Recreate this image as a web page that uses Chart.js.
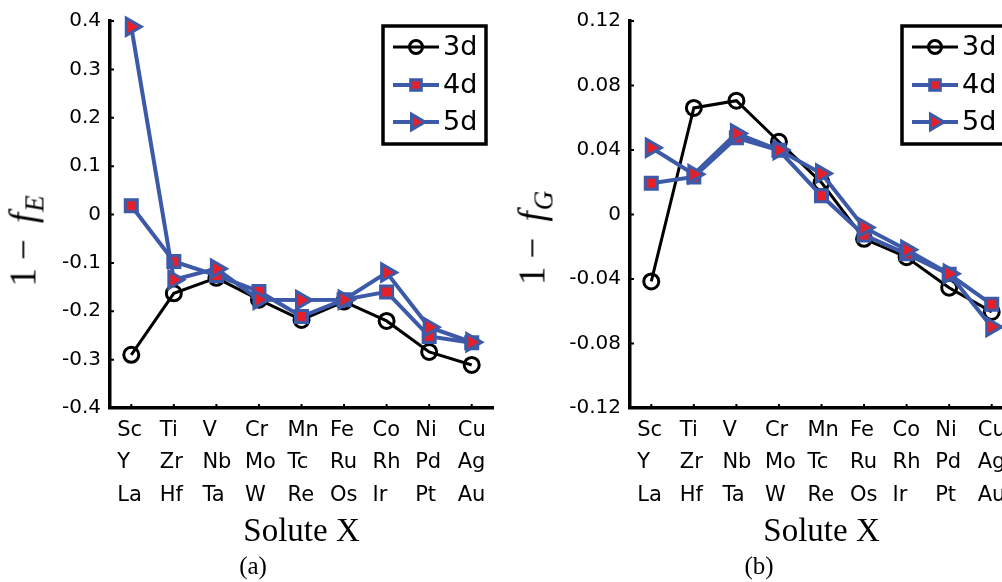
<!DOCTYPE html>
<html>
<head>
<meta charset="utf-8">
<script src="https://cdn.jsdelivr.net/npm/chart.js@4.4.1/dist/chart.umd.min.js"></script>
<style>
  html, body { margin: 0; padding: 0; background: #fff; }
  body { width: 1002px; height: 582px; overflow: hidden; position: relative; }
  .panel { position: absolute; top: 0; }
  .ylab {
    position: absolute; white-space: nowrap;
    font-family: "Liberation Serif", serif; font-size: 37px; color: #000;
    transform: translate(-50%, -50%) rotate(-90deg);
  }
  .ylab i { margin-left: 16px; }
  .ylab .mn { margin-left: 8px; }
  .ylab sub { font-size: 27px; font-style: italic; vertical-align: -0.3em; margin-left: 1px; }
  .cap {
    position: absolute; font-family: "Liberation Serif", serif; font-size: 25px;
    transform: translate(-50%, -50%);
  }
</style>
</head>
<body>
<div class="panel" style="left:0;"><canvas id="chartA" width="520" height="582"></canvas></div>
<div class="panel" style="left:500px;"><canvas id="chartB" width="540" height="582"></canvas></div>
<div class="ylab" style="left:26px; top:241px;">1<span class="mn">−</span><i>f</i><sub>E</sub></div>
<div class="ylab" style="left:535px; top:238px;">1<span class="mn">−</span><i>f</i><sub>G</sub></div>
<div class="cap" style="left:253px; top:566px;">(a)</div>
<div class="cap" style="left:759px; top:566px;">(b)</div>
<script>
// solute columns, one per group (3d / 4d / 5d row)
var solutes = [
  ['Sc', 'Y', 'La'], ['Ti', 'Zr', 'Hf'], ['V', 'Nb', 'Ta'], ['Cr', 'Mo', 'W'], ['Mn', 'Tc', 'Re'],
  ['Fe', 'Ru', 'Os'], ['Co', 'Rh', 'Ir'], ['Ni', 'Pd', 'Pt'], ['Cu', 'Ag', 'Au']
];
var seriesNames = ['3d', '4d', '5d'];

// panel (a): 1 - f_E
var fE3d = [-0.290, -0.163, -0.131, -0.176, -0.218, -0.180, -0.220, -0.284, -0.311];
var fE4d = [0.018, -0.097, -0.126, -0.159, -0.211, -0.176, -0.160, -0.252, -0.265];
var fE5d = [0.388, -0.135, -0.112, -0.176, -0.177, -0.176, -0.120, -0.233, -0.264];
var yTicksA = [-0.4, -0.3, -0.2, -0.1, 0, 0.1, 0.2, 0.3, 0.4];
var yTickLabelsA = ['-0.4', '-0.3', '-0.2', '-0.1', '0', '0.1', '0.2', '0.3', '0.4'];

// panel (b): 1 - f_G
var fG3d = [-0.0415, 0.0661, 0.0706, 0.0451, 0.0198, -0.0151, -0.0265, -0.0454, -0.0604];
var fG4d = [0.0194, 0.0233, 0.0476, 0.0398, 0.0116, -0.0127, -0.0244, -0.0371, -0.0557];
var fG5d = [0.0414, 0.0250, 0.0503, 0.0400, 0.0254, -0.0080, -0.0219, -0.0367, -0.0697];
var yTicksB = [-0.12, -0.08, -0.04, 0, 0.04, 0.08, 0.12];
var yTickLabelsB = ['-0.12', '-0.08', '-0.04', '0', '0.04', '0.08', '0.12'];

var BLUE = '#3d5aa9';
var RED = '#e5202a';
var SANS = '"DejaVu Sans", sans-serif';

var styles = [
  { borderColor: '#000', borderWidth: 3, pointStyle: 'circle', pointRadius: 7.5, pointRotation: 0,
    pointBackgroundColor: 'rgba(0,0,0,0)', pointBorderColor: '#000', pointBorderWidth: 3, order: 2 },
  { borderColor: BLUE, borderWidth: 4, pointStyle: 'rect', pointRadius: 8.5, pointRotation: 0,
    pointBackgroundColor: RED, pointBorderColor: BLUE, pointBorderWidth: 3, order: 1 },
  { borderColor: BLUE, borderWidth: 4, pointStyle: 'triangle', pointRadius: 10, pointRotation: 90,
    pointBackgroundColor: RED, pointBorderColor: BLUE, pointBorderWidth: 3, order: 0 }
];

function makeDatasets(lists) {
  var out = [];
  for (var i = 0; i < lists.length; i++) {
    var s = styles[i];
    out.push({
      label: seriesNames[i],
      data: lists[i],
      borderColor: s.borderColor,
      borderWidth: s.borderWidth,
      pointStyle: s.pointStyle,
      pointRadius: s.pointRadius,
      pointRotation: s.pointRotation,
      pointBackgroundColor: s.pointBackgroundColor,
      pointBorderColor: s.pointBorderColor,
      pointBorderWidth: s.pointBorderWidth,
      order: s.order,
      tension: 0,
      fill: false,
      clip: false
    });
  }
  return out;
}

// matlab style boxed legend drawn inside the axes
var boxLegend = {
  id: 'boxLegend',
  afterDraw: function (chart, args, opts) {
    var ctx = chart.ctx;
    var b = opts.box;
    ctx.save();
    ctx.fillStyle = '#fff';
    ctx.fillRect(b.left, b.top, b.width, b.height);
    ctx.lineWidth = 3.5;
    ctx.strokeStyle = '#000';
    ctx.strokeRect(b.left, b.top, b.width, b.height);
    var rows = [47, 85, 122];
    for (var i = 0; i < chart.data.datasets.length; i++) {
      var ds = chart.data.datasets[i];
      var y = rows[i];
      ctx.beginPath();
      ctx.lineWidth = ds.borderWidth;
      ctx.strokeStyle = ds.borderColor;
      ctx.moveTo(b.left + 10, y);
      ctx.lineTo(b.left + 56, y);
      ctx.stroke();
      ctx.fillStyle = ds.pointBackgroundColor;
      ctx.strokeStyle = ds.pointBorderColor;
      ctx.lineWidth = ds.pointBorderWidth;
      Chart.helpers.drawPoint(ctx, {
        pointStyle: ds.pointStyle, rotation: ds.pointRotation,
        radius: ds.pointRadius - 1, borderWidth: ds.pointBorderWidth
      }, b.left + 33, y);
      ctx.fillStyle = '#000';
      ctx.font = '27px ' + SANS;
      ctx.textBaseline = 'middle';
      ctx.textAlign = 'left';
      ctx.fillText(ds.label, b.left + 60, y + 1);
    }
    ctx.restore();
  }
};

// small inward tick marks like matlab
var innerTicks = {
  id: 'innerTicks',
  afterDraw: function (chart) {
    var ctx = chart.ctx;
    var xs = chart.scales.x, ys = chart.scales.y;
    var area = chart.chartArea;
    ctx.save();
    ctx.strokeStyle = '#000';
    ctx.lineWidth = 2;
    ctx.beginPath();
    for (var i = 0; i < xs.ticks.length; i++) {
      var px = xs.getPixelForTick(i);
      ctx.moveTo(px, area.bottom);
      ctx.lineTo(px, area.bottom - 4);
    }
    for (var j = 0; j < ys.ticks.length; j++) {
      var py = ys.getPixelForTick(j);
      ctx.moveTo(area.left, py);
      ctx.lineTo(area.left + 4, py);
    }
    ctx.stroke();
    ctx.restore();
  }
};

function makeChart(id, lists, yMin, yMax, tickVals, tickLabels, yWidth, padRight, legendBox) {
  return new Chart(document.getElementById(id), {
    type: 'line',
    data: { labels: solutes, datasets: makeDatasets(lists) },
    plugins: [boxLegend, innerTicks],
    options: {
      responsive: false,
      animation: false,
      devicePixelRatio: 1,
      layout: { padding: { top: 21, right: padRight, bottom: 0, left: 0 } },
      plugins: {
        legend: { display: false },
        tooltip: { enabled: false },
        boxLegend: { box: legendBox }
      },
      scales: {
        x: {
          offset: true,
          grid: { display: false, drawTicks: false },
          border: { display: true, color: '#000', width: 3.5 },
          ticks: {
            color: '#000', align: 'start', labelOffset: -14, padding: 6, autoSkip: false, maxRotation: 0,
            font: { family: SANS, size: 21, lineHeight: 1.55 }
          },
          title: {
            display: true, text: 'Solute X', color: '#000',
            font: { family: '"Liberation Serif", serif', size: 33, lineHeight: 1.2 },
            padding: { top: 0, bottom: 30 }
          },
          afterFit: function (scale) { scale.height = 174; }
        },
        y: {
          min: yMin, max: yMax,
          grid: { display: false, drawTicks: false },
          border: { display: true, color: '#000', width: 3.5 },
          afterBuildTicks: function (scale) {
            scale.ticks = tickVals.map(function (v) { return { value: v }; });
          },
          ticks: {
            color: '#000', padding: 9,
            font: { family: SANS, size: 20 },
            callback: function (v, i) { return tickLabels[i]; }
          },
          afterFit: function (scale) { scale.width = yWidth; }
        }
      }
    }
  });
}

makeChart('chartA', [fE3d, fE4d, fE5d], -0.4, 0.4, yTicksA, yTickLabelsA, 110, 27,
  { left: 383, top: 26, width: 103, height: 118 });
makeChart('chartB', [fG3d, fG4d, fG5d], -0.12, 0.12, yTicksB, yTickLabelsB, 130, 27,
  { left: 402, top: 26, width: 103, height: 118 });
</script>
</body>
</html>
